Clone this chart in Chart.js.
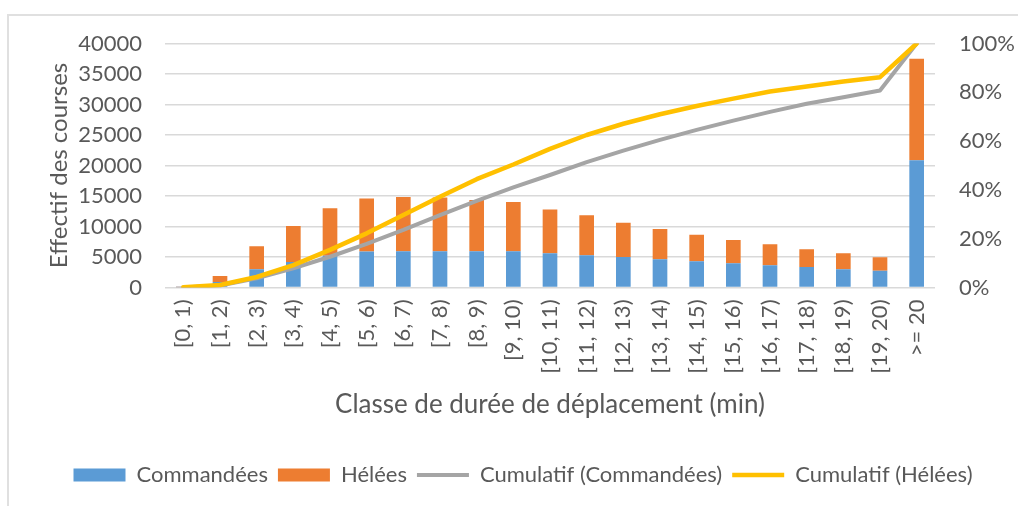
<!DOCTYPE html>
<html>
<head>
<meta charset="utf-8">
<script src="https://cdn.jsdelivr.net/npm/chart.js@4"></script>
<style>
  body { margin: 0; background: #fff; }
  #wrap { position: relative; width: 1018px; height: 506px; overflow: hidden; }
  #frame { position: absolute; left: 7px; top: 14px; width: 1100px; height: 600px; border: 2px solid #e0e0e0; }
  #chartCanvas { position: absolute; left: 0; top: 0; }
</style>
</head>
<body>
<div id="wrap">
  <div id="frame"></div>
  <canvas id="chartCanvas" width="1018" height="506"></canvas>
</div>
<script>
const categories = [
  "[0, 1)", "[1, 2)", "[2, 3)", "[3, 4)", "[4, 5)", "[5, 6)", "[6, 7)",
  "[7, 8)", "[8, 9)", "[9, 10)", "[10, 11)", "[11, 12)", "[12, 13)",
  "[13, 14)", "[14, 15)", "[15, 16)", "[16, 17)", "[17, 18)", "[18, 19)",
  "[19, 20)", ">= 20"
];

// effectifs par classe
const commandees = [60, 900, 3000, 4200, 5200, 5900, 5950, 5950, 5950, 5950, 5600,
  5280, 5000, 4620, 4290, 3960, 3640, 3360, 2980, 2750, 20850];
const helees = [80, 1000, 3750, 5900, 7800, 8700, 8900, 8800, 8400, 8050, 7200,
  6550, 5630, 4970, 4370, 3830, 3440, 2900, 2620, 2200, 16650];

// cumulatifs en %
const cumulCommandees = [0, 0.8, 3.8, 7.9, 12.6, 17.9, 23.6, 29.7, 35.5, 41, 46.1,
  51.4, 56.1, 60.5, 64.6, 68.4, 72, 75.3, 78, 80.7, 100];
const cumulHelees = [0.1, 1, 4.3, 9.2, 15.4, 22.2, 29.7, 37.2, 44.4, 50.4, 56.8,
  62.5, 67.1, 71, 74.4, 77.4, 80.3, 82.4, 84.4, 86.2, 100];

const countTicks = [0, 5000, 10000, 15000, 20000, 25000, 30000, 35000, 40000];
const percentTicks = [0, 20, 40, 60, 80, 100];

const textColor = "#595959";
const gridColor = "#d9d9d9";
const fontFamily = "Lato, 'Open Sans', sans-serif";

Chart.defaults.font.family = fontFamily;
Chart.defaults.font.size = 22;
Chart.defaults.color = textColor;

function main() {
  const ctx = document.getElementById("chartCanvas").getContext("2d");

  new Chart(ctx, {
    type: "bar",
    data: {
      labels: categories,
      datasets: [
        {
          label: "Commandées",
          data: commandees,
          backgroundColor: "#5b9bd5",
          borderWidth: 0,
          pointStyle: "rect",
          barPercentage: 0.4,
          categoryPercentage: 1,
          order: 2,
        },
        {
          label: "Hélées",
          data: helees,
          backgroundColor: "#ed7d31",
          borderWidth: 0,
          pointStyle: "rect",
          barPercentage: 0.4,
          categoryPercentage: 1,
          order: 2,
        },
        {
          type: "line",
          label: "Cumulatif (Commandées)",
          data: cumulCommandees,
          yAxisID: "y1",
          borderColor: "#a5a5a5",
          backgroundColor: "#a5a5a5",
          borderWidth: 4,
          borderCapStyle: "round",
          borderJoinStyle: "round",
          pointRadius: 0,
          pointStyle: "line",
          tension: 0,
          order: 1,
        },
        {
          type: "line",
          label: "Cumulatif (Hélées)",
          data: cumulHelees,
          yAxisID: "y1",
          borderColor: "#ffc000",
          backgroundColor: "#ffc000",
          borderWidth: 4.5,
          borderCapStyle: "round",
          borderJoinStyle: "round",
          pointRadius: 0,
          pointStyle: "line",
          tension: 0,
          order: 0,
        },
      ],
    },
    options: {
      responsive: false,
      animation: false,
      layout: {
        padding: { left: 28, right: 0, top: 43.5, bottom: 10 },
      },
      scales: {
        x: {
          stacked: true,
          grid: { display: false },
          border: { display: false },
          ticks: {
            minRotation: 90,
            maxRotation: 90,
            padding: 4,
            color: textColor,
            font: { size: 22 },
          },
          title: {
            display: true,
            text: "Classe de durée de déplacement (min)",
            color: textColor,
            font: { size: 26 },
            padding: { top: 0, bottom: 34 },
          },
          afterFit: (scale) => {
            scale.height = 166.5;
          },
        },
        y: {
          stacked: true,
          position: "left",
          min: 0,
          max: 40000,
          afterBuildTicks: (scale) => {
            scale.ticks = countTicks.map((v) => ({ value: v }));
          },
          grid: { color: gridColor, lineWidth: 1.5, drawTicks: false },
          border: { display: false },
          ticks: {
            padding: 23,
            color: textColor,
            font: { size: 22 },
            callback: (v) => String(v),
          },
          title: {
            display: true,
            text: "Effectif des courses",
            color: textColor,
            font: { size: 24 },
            padding: { top: 17, bottom: 0 },
          },
          afterFit: (scale) => {
            scale.width = 137;
          },
        },
        y1: {
          position: "right",
          min: 0,
          max: 100,
          afterBuildTicks: (scale) => {
            scale.ticks = percentTicks.map((v) => ({ value: v }));
          },
          grid: { drawOnChartArea: false, drawTicks: false },
          border: { display: false },
          ticks: {
            padding: 24,
            color: textColor,
            font: { size: 22 },
            callback: (v) => v + "%",
          },
          afterFit: (scale) => {
            scale.width = 83;
          },
        },
      },
      plugins: {
        tooltip: { enabled: false },
        legend: {
          display: true,
          position: "bottom",
          labels: {
            usePointStyle: true,
            pointStyleWidth: 52,
            boxHeight: 13,
            padding: 10,
            color: textColor,
            font: { size: 22 },
            sort: (a, b) => a.datasetIndex - b.datasetIndex,
          },
        },
      },
    },
  });
}

document.addEventListener("DOMContentLoaded", main);
</script>
</body>
</html>
